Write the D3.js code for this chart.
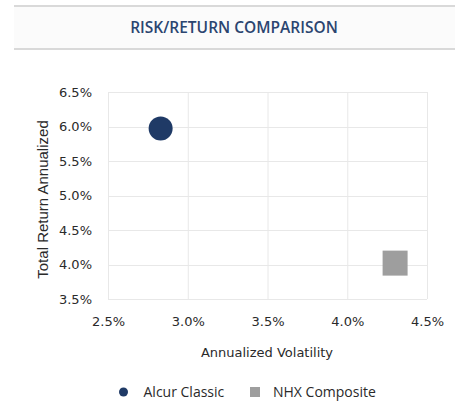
<!DOCTYPE html>
<html><head><meta charset="utf-8">
<script src="https://cdn.jsdelivr.net/npm/d3@7"></script>
<style>body{margin:0;background:#fff}svg{display:block}</style>
</head><body>
<svg id="c" width="463" height="408"></svg>
<script>
const titleText = "RISK/RETURN COMPARISON";
const seriesNames = ["Alcur Classic", "NHX Composite"];
const volatility = [2.83, 4.30];
const returns = [5.97, 4.02];
const seriesColors = ["#1f3a66", "#9e9e9e"];
const xTicks = [2.5, 3.0, 3.5, 4.0, 4.5];
const yTicks = [3.5, 4.0, 4.5, 5.0, 5.5, 6.0, 6.5];
const xTitle = "Annualized Volatility";
const yTitle = "Total Return Annualized";

const svg = d3.select("#c");
// title bar
svg.append("rect").attr("x",14).attr("y",6).attr("width",441).attr("height",43).attr("fill","#fbfbfb");
svg.append("line").attr("x1",14).attr("x2",455).attr("y1",6).attr("y2",6).attr("stroke","#d9d9d9").attr("stroke-width",2);
svg.append("line").attr("x1",14).attr("x2",455).attr("y1",49).attr("y2",49).attr("stroke","#d9d9d9").attr("stroke-width",2);
svg.append("text").attr("x",234).attr("y",33).attr("text-anchor","middle")
  .attr("font-family","'Open Sans'").attr("font-weight",600).attr("font-size",15.5)
  .attr("fill","#2b4570").text(titleText);

const x = d3.scaleLinear().domain([2.5,4.5]).range([108,427]);
const y = d3.scaleLinear().domain([3.5,6.5]).range([299,92]);

const g = svg.append("g");
// grid
g.selectAll(".vg").data(xTicks).join("line").attr("x1",d=>x(d)+0.5).attr("x2",d=>x(d)+0.5)
  .attr("y1",y(6.5)).attr("y2",y(3.5)).attr("stroke","#e8e8e8");
g.selectAll(".hg").data(yTicks).join("line").attr("y1",d=>Math.round(y(d))+0.5).attr("y2",d=>Math.round(y(d))+0.5)
  .attr("x1",x(2.5)).attr("x2",x(4.5)).attr("stroke","#e8e8e8");

const fmt = d => d.toFixed(1) + "%";
const xAxis = d3.axisBottom(x).tickValues(xTicks).tickFormat(fmt).tickSize(0).tickPadding(18);
const yAxis = d3.axisLeft(y).tickValues(yTicks).tickFormat(fmt).tickSize(0).tickPadding(16);
const xa = svg.append("g").attr("transform","translate(0,299)").call(xAxis);
const ya = svg.append("g").attr("transform","translate(108,0)").call(yAxis);
[xa,ya].forEach(a=>{a.select(".domain").remove();
  a.selectAll("text").attr("font-family","'DejaVu Sans'").attr("font-size",13).attr("fill","#2a2a2a");});

svg.append("text").attr("x",267).attr("y",357).attr("text-anchor","middle")
  .attr("font-family","'DejaVu Sans'").attr("font-size",13).attr("fill","#2a2a2a").text(xTitle);
svg.append("text").attr("transform","translate(48,199.5) rotate(-90)").attr("text-anchor","middle")
  .attr("font-family","'Liberation Sans'").attr("font-size",15).attr("fill","#2a2a2a").text(yTitle);

// marks
const pts = seriesNames.map((n,i)=>({name:n,vx:volatility[i],vy:returns[i],color:seriesColors[i],i}));
svg.selectAll(".pt").data(pts).join(enter=>enter.append("path"))
  .attr("transform",d=>`translate(${x(d.vx)},${y(d.vy)})`)
  .attr("d",d=> d.i===0 ? d3.symbol(d3.symbolCircle, Math.PI*12*12)() : d3.symbol(d3.symbolSquare, 25*25)())
  .attr("fill",d=>d.color);

// legend
const legX = [123.5, 255];
const lg = svg.selectAll(".lg").data(pts).join("g").attr("transform",(d,i)=>`translate(${legX[i]},392)`);
lg.append("path").attr("d",d=> d.i===0 ? d3.symbol(d3.symbolCircle, Math.PI*4.5*4.5)() : d3.symbol(d3.symbolSquare, 100)())
  .attr("fill",d=>d.color);
lg.append("text").attr("x",d=>d.i===0?20:18).attr("y",5).attr("font-family","'Open Sans'").attr("font-size",14)
  .attr("fill","#2a2a2a").text(d=>d.name);
</script>
</body></html>
